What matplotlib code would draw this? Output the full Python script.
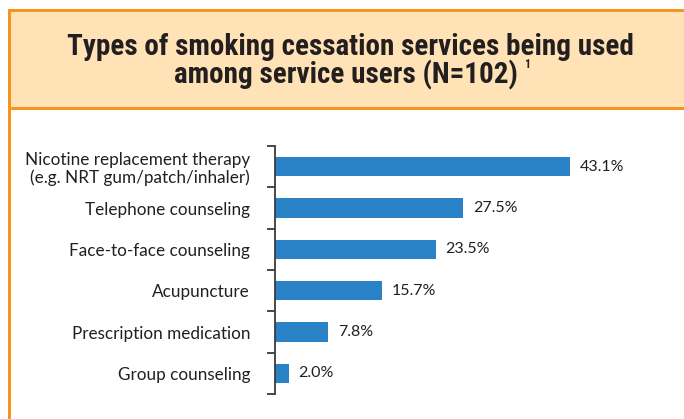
import numpy as np
import matplotlib.pyplot as plt
from matplotlib import font_manager
from matplotlib.patches import Rectangle

categories = [
    "Nicotine replacement therapy\n(e.g. NRT gum/patch/inhaler)",
    "Telephone counseling",
    "Face-to-face counseling",
    "Acupuncture",
    "Prescription medication",
    "Group counseling",
]
percentages = [43.1, 27.5, 23.5, 15.7, 7.8, 2.0]
value_labels = ["43.1%", "27.5%", "23.5%", "15.7%", "7.8%", "2.0%"]
title_lines = ["Types of smoking cessation services being used",
               "among service users (N=102)"]


def first_installed(names):
    installed = {f.name for f in font_manager.fontManager.ttflist}
    for name in names:
        if name in installed:
            return name
    return "DejaVu Sans"


title_font = first_installed(["Roboto Condensed", "Liberation Sans Narrow", "DejaVu Sans Condensed"])
body_font = first_installed(["Lato", "Open Sans", "Noto Sans"])
plt.rcParams["font.family"] = [body_font, "DejaVu Sans"]

ORANGE = "#F7941E"
HEADER = "#FFE3B6"
BLUE = "#2A82C6"
TEXT = "#231F20"

W, H = 684, 419
fig = plt.figure(figsize=(W / 100, H / 100), dpi=100)

# header band with orange frame, the frame runs on down the left side
fig.add_artist(Rectangle((8 / W, 1 - 110 / H), 1, 101 / H, transform=fig.transFigure,
                         facecolor=HEADER, edgecolor="none"))
fig.add_artist(Rectangle((8 / W, 1 - 12 / H), 1, 3 / H, transform=fig.transFigure,
                         facecolor=ORANGE, edgecolor="none"))
fig.add_artist(Rectangle((8 / W, 1 - 110 / H), 1, 3 / H, transform=fig.transFigure,
                         facecolor=ORANGE, edgecolor="none"))
fig.add_artist(Rectangle((8 / W, 0), 3 / W, 1 - 9 / H, transform=fig.transFigure,
                         facecolor=ORANGE, edgecolor="none"))

t_kw = dict(ha="center", va="center", fontsize=21, fontweight="bold", color=TEXT,
            family=[title_font, "DejaVu Sans"])
fig.text(350 / W, 1 - 47 / H, title_lines[0], **t_kw)
line2 = fig.text(346 / W, 1 - 75 / H, title_lines[1], **t_kw)

# footnote marker just after the second title line
fig.canvas.draw()
bb = line2.get_window_extent()
fig.text((bb.x1 + 6) / W, 1 - 64 / H, "1", ha="left", va="center", fontsize=8.5,
         fontweight="bold", color=TEXT, family=[title_font, "DejaVu Sans"])

xmax = 50
ax = fig.add_axes([275 / W, 1 - 394 / H, xmax * 6.845 / W, (394 - 146) / H])
y = np.arange(len(categories))
ax.barh(y, percentages, height=0.47, color=BLUE)
for yi, v, lab in zip(y, percentages, value_labels):
    ax.text(v + 1.4, yi, lab, va="center", ha="left", fontsize=11.5, color=TEXT)

ax.set_xlim(0, xmax)
ax.set_ylim(len(categories) - 0.5, -0.5)
ax.set_yticks(y)
ax.set_yticklabels(categories, fontsize=12.3, color=TEXT, linespacing=1.1)
ax.set_yticks(np.arange(-0.5, len(categories)), minor=True)
ax.tick_params(axis="y", which="major", length=0, pad=18)
ax.tick_params(axis="y", which="minor", length=6, width=1.3, color="#3a3a3a", direction="out")
ax.set_xticks([])
for s in ["top", "right", "bottom"]:
    ax.spines[s].set_visible(False)
ax.spines["left"].set_color("#3a3a3a")
ax.spines["left"].set_linewidth(1.3)
ax.patch.set_visible(False)

fig.savefig("out.png", dpi=100)
